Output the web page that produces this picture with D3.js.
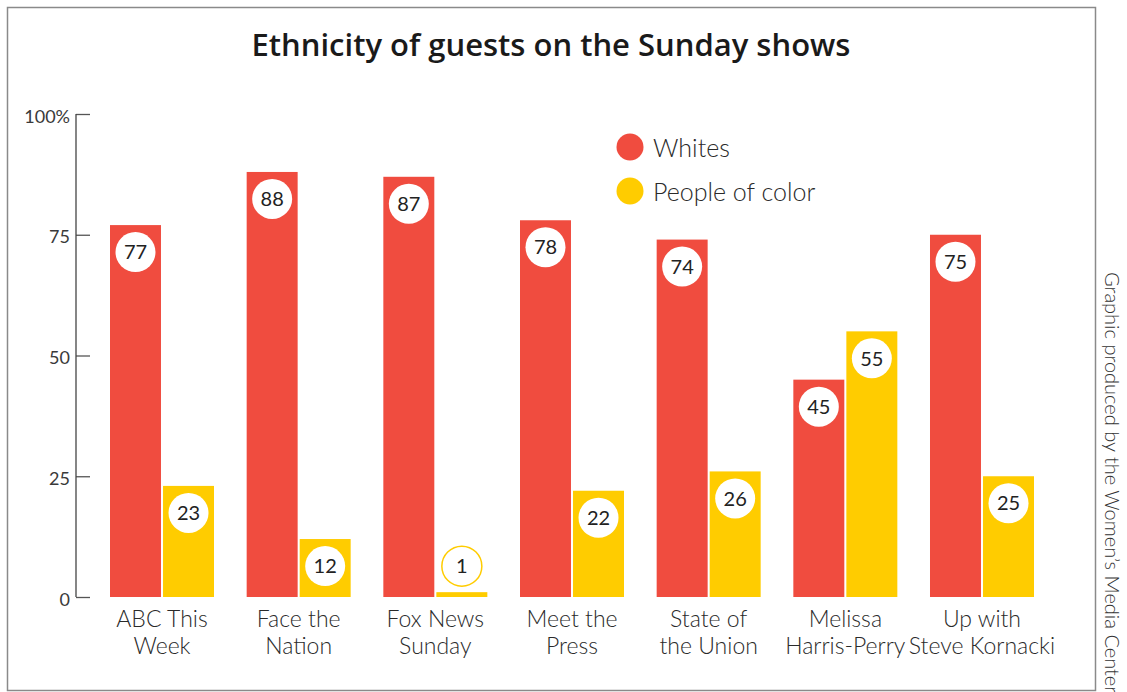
<!DOCTYPE html>
<html>
<head>
<meta charset="utf-8">
<script src="https://cdn.jsdelivr.net/npm/d3@7"></script>
<style>
  html, body { margin: 0; padding: 0; background: #fff; }
  svg { display: block; font-family: Lato, "Open Sans", sans-serif; }
</style>
</head>
<body>
<svg id="chart" width="1127" height="692"></svg>
<script>
const categories = [
  ["ABC This", "Week"],
  ["Face the", "Nation"],
  ["Fox News", "Sunday"],
  ["Meet the", "Press"],
  ["State of", "the Union"],
  ["Melissa", "Harris-Perry"],
  ["Up with", "Steve Kornacki"]
];
const seriesNames = ["Whites", "People of color"];
const whites = [77, 88, 87, 78, 74, 45, 75];
const peopleOfColor = [23, 12, 1, 22, 26, 55, 25];
const yTicks = [0, 25, 50, 75, 100];
const colors = ["#F04C3F", "#FFCC00"];

const svg = d3.select("#chart");

// outer frame
svg.append("rect")
  .attr("x", 7.5).attr("y", 7.5)
  .attr("width", 1088).attr("height", 683)
  .attr("fill", "none").attr("stroke", "#8a8a8a").attr("stroke-width", 1.5);

// title
svg.append("text")
  .attr("x", 551).attr("y", 56)
  .attr("text-anchor", "middle")
  .attr("font-family", "'Open Sans', sans-serif")
  .attr("font-size", 31).attr("font-weight", 600)
  .attr("fill", "#1a1a1a")
  .text("Ethnicity of guests on the Sunday shows");

const keys = categories.map((c, i) => i);
const x0 = d3.scaleBand().domain(keys).range([93.67, 1050.33])
  .paddingInner(0.239).paddingOuter(0.1195);
const x1 = d3.scaleBand().domain([0, 1]).range([0, x0.bandwidth()])
  .paddingInner(0.0385);
const y = d3.scaleLinear().domain([0, 100]).range([597, 114]);

// y axis
const yAxis = d3.axisLeft(y).tickValues(yTicks).tickSize(-14)
  .tickFormat(d => d === 100 ? "100%" : d);
const ga = svg.append("g").attr("transform", "translate(76,0)").call(yAxis);
ga.select(".domain").remove();
ga.append("line").attr("x1", 0).attr("x2", 0)
  .attr("y1", y(100)).attr("y2", y(0))
  .attr("stroke", "#444").attr("stroke-width", 1.3);
ga.selectAll(".tick line").attr("stroke", "#555").attr("stroke-width", 1.3);
ga.selectAll(".tick text")
  .attr("x", -6).attr("dy", "0.45em")
  .attr("font-size", 18).attr("font-family", "Lato, sans-serif")
  .attr("font-weight", 400)
  .attr("fill", "#3a3a3a");

const data = keys.map(i => [whites[i], peopleOfColor[i]]);

const groups = svg.append("g").selectAll("g")
  .data(data).join("g")
  .attr("transform", (d, i) => `translate(${x0(i)},0)`);

groups.selectAll("rect")
  .data(d => d.map((v, s) => ({ v, s })))
  .join("rect")
  .attr("x", d => x1(d.s))
  .attr("y", d => y(d.v))
  .attr("width", x1.bandwidth())
  .attr("height", d => y(0) - y(d.v))
  .attr("fill", d => colors[d.s]);

const lab = groups.selectAll("g.lab")
  .data(d => d.map((v, s) => ({ v, s })))
  .join("g").attr("class", "lab")
  .attr("transform", d => {
    const cx = x1(d.s) + x1.bandwidth() / 2;
    const small = (y(0) - y(d.v)) < 50;
    const cy = small ? y(d.v) - 26 : y(d.v) + 27;
    return `translate(${cx},${cy})`;
  });
lab.append("circle")
  .attr("r", 20)
  .attr("fill", "#fff")
  .attr("stroke", d => (y(0) - y(d.v)) < 50 ? colors[d.s] : "none")
  .attr("stroke-width", 1.5);
lab.append("text")
  .attr("text-anchor", "middle").attr("dy", "0.36em")
  .attr("font-size", 20).attr("fill", "#222")
  .text(d => d.v);

// category labels
const cl = svg.append("g").selectAll("text")
  .data(categories).join("text")
  .attr("text-anchor", "middle")
  .attr("x", (d, i) => x0(i) + x0.bandwidth() / 2)
  .attr("y", 627)
  .attr("font-size", 23).attr("font-weight", 300).attr("fill", "#2a2a2a");
cl.append("tspan").attr("x", (d, i) => x0(i) + x0.bandwidth() / 2).text(d => d[0]);
cl.append("tspan").attr("x", (d, i) => x0(i) + x0.bandwidth() / 2).attr("dy", 27).text(d => d[1]);

// legend
const leg = svg.append("g").selectAll("g")
  .data(seriesNames).join("g")
  .attr("transform", (d, i) => `translate(630,${147 + i * 44})`);
leg.append("circle").attr("r", 13.5).attr("fill", (d, i) => colors[i]);
leg.append("text").attr("x", 23).attr("dy", "0.38em")
  .attr("font-size", 25).attr("font-weight", 300).attr("fill", "#2a2a2a")
  .text(d => d);

// credit
svg.append("text")
  .attr("transform", "translate(1105,272) rotate(90)")
  .attr("font-size", 20).attr("font-weight", 300).attr("fill", "#333")
  .text("Graphic produced by the Women\u2019s Media Center");
</script>
</body>
</html>
